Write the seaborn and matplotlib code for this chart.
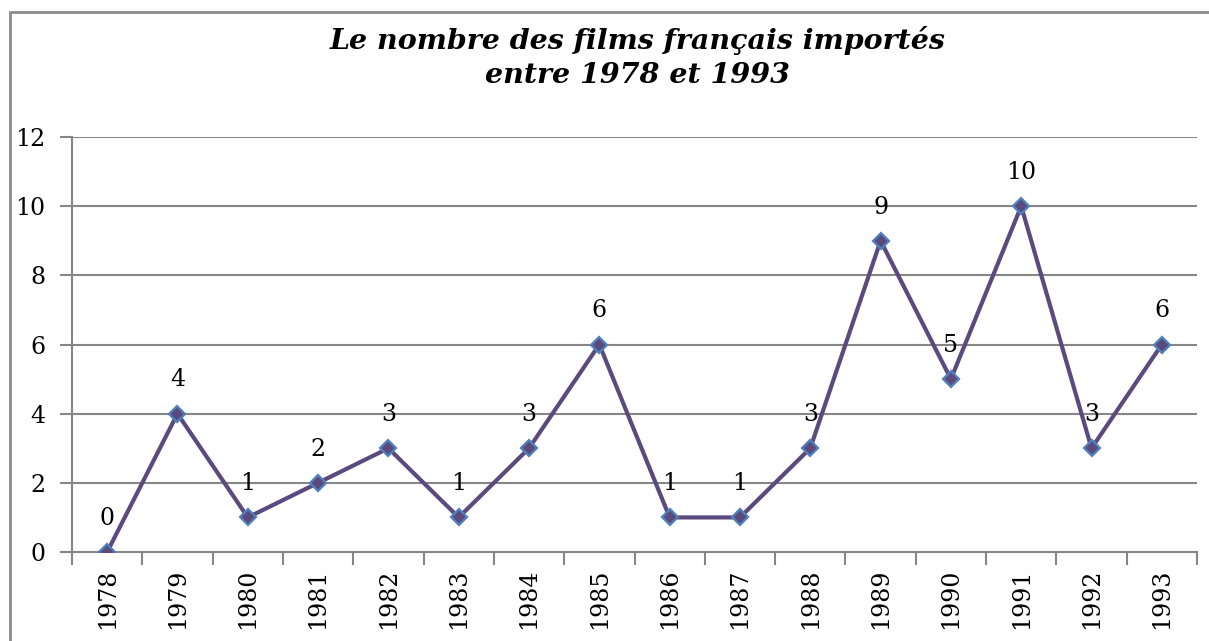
import matplotlib
matplotlib.use("Agg")
import matplotlib.pyplot as plt
from matplotlib.patches import Rectangle
import seaborn as sns
import pandas as pd

annees = ["1978", "1979", "1980", "1981", "1982", "1983", "1984", "1985",
          "1986", "1987", "1988", "1989", "1990", "1991", "1992", "1993"]
films = [0, 4, 1, 2, 3, 1, 3, 6, 1, 1, 3, 9, 5, 10, 3, 6]
y_ticks = [0, 2, 4, 6, 8, 10, 12]
titre = "Le nombre des films français importés\nentre 1978 et 1993"

sns.set_theme(style="white")
plt.rcParams["font.family"] = ["DejaVu Serif"]
plt.rcParams["text.color"] = "black"

df = pd.DataFrame({"annee": annees, "films": films})

fig = plt.figure(figsize=(12.09, 6.41), dpi=100)
ax = fig.add_axes([72 / 1209, 1 - 552 / 641, (1197 - 72) / 1209, (552 - 137) / 641])

grid_col = "#868686"
line_col = "#5B4A7E"
edge_col = "#4F81BD"

sns.lineplot(data=df, x="annee", y="films", sort=False, ax=ax,
             color=line_col, linewidth=3, marker="D", markersize=8,
             markerfacecolor=line_col, markeredgecolor=edge_col,
             markeredgewidth=1.6, zorder=3)

n = len(annees)
ax.set_xlim(-0.5, n - 0.5)
ax.set_ylim(0, 12)
ax.set_yticks(y_ticks)
ax.set_yticklabels([str(v) for v in y_ticks], fontsize=17, color="black")
ax.set_xticks(range(n))
ax.set_xticklabels(annees, rotation=90, fontsize=17, color="black")
ax.set_xticks([i - 0.5 for i in range(n + 1)], minor=True)
ax.tick_params(axis="x", which="major", length=0, pad=12)
ax.tick_params(axis="x", which="minor", length=9, width=1.5, color=grid_col, direction="out", bottom=True)
ax.tick_params(axis="y", which="major", length=9, width=1.5, color=grid_col, direction="out", left=True, pad=10)
ax.set_xlabel("")
ax.set_ylabel("")

ax.grid(False)
for v in y_ticks[1:]:
    ax.axhline(v, color=grid_col, linewidth=1.5, zorder=1)

for s in ["top", "right"]:
    ax.spines[s].set_visible(False)
for s in ["left", "bottom"]:
    ax.spines[s].set_color(grid_col)
    ax.spines[s].set_linewidth(1.5)

for i, v in enumerate(films):
    ax.annotate(str(v), (i, v), xytext=(0, 16), textcoords="offset points",
                ha="center", va="bottom", fontsize=17, color="black", zorder=4)

fig.text(0.527, 1 - 57.5 / 641, titre, ha="center", va="center", color="black",
         fontsize=20.5, fontweight="bold", fontstyle="italic", linespacing=1.35)

fig.patches.append(Rectangle((10 / 1209, -0.2), 2, 1 - 12 / 641 + 0.2,
                             transform=fig.transFigure, fill=False,
                             edgecolor="#8C8C8C", linewidth=2, figure=fig))

fig.savefig("out.png", dpi=100)
